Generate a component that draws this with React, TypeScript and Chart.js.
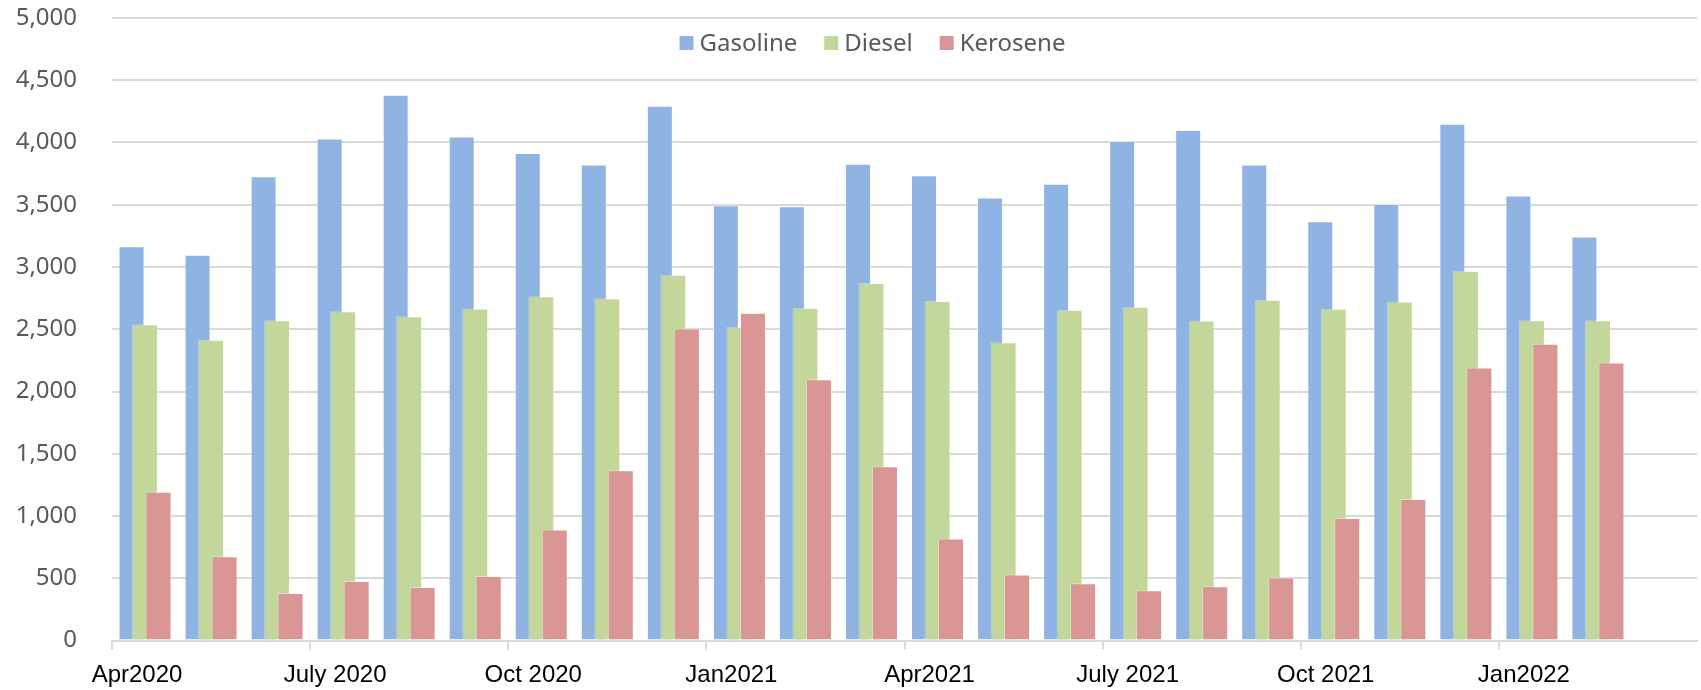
import React, { useEffect, useRef } from "react";
import { Chart, registerables } from "chart.js";

Chart.register(...registerables);

const months = [
  "2020-04", "2020-05", "2020-06", "2020-07", "2020-08", "2020-09",
  "2020-10", "2020-11", "2020-12", "2021-01", "2021-02", "2021-03",
  "2021-04", "2021-05", "2021-06", "2021-07", "2021-08", "2021-09",
  "2021-10", "2021-11", "2021-12", "2022-01", "2022-02", "2022-03",
];
const tickLabels = ["Apr2020", "July 2020", "Oct 2020", "Jan2021", "Apr2021", "July 2021", "Oct 2021", "Jan2022"];

const gasoline = [3166, 3099, 3728, 4033, 4383, 4049, 3915, 3824, 4295, 3495, 3487, 3830, 3736, 3559, 3669, 4013, 4101, 3824, 3367, 3506, 4151, 3575, 3244];
const diesel = [2540, 2416, 2572, 2645, 2605, 2666, 2765, 2750, 2938, 2521, 2672, 2872, 2727, 2395, 2657, 2680, 2570, 2736, 2664, 2722, 2970, 2573, 2573];
const kerosene = [1194, 677, 381, 477, 429, 518, 892, 1368, 2507, 2633, 2098, 1400, 820, 531, 459, 403, 435, 507, 983, 1136, 2192, 2383, 2232];

const seriesNames = ["Gasoline", "Diesel", "Kerosene"];
const seriesColors = ["#8FB4E3", "#C4D79B", "#DA9694"];

const forwardDrawPlugin = {
  id: "forwardDraw",
  beforeDatasetsDraw(chart: any) {
    const metas = chart.getSortedVisibleDatasetMetas();
    const ctx = chart.ctx;
    const a = chart.chartArea;
    ctx.save();
    ctx.beginPath();
    ctx.rect(a.left, a.top, a.right - a.left, a.bottom - a.top);
    ctx.clip();
    for (const meta of metas) meta.controller.draw();
    ctx.restore();
    return false;
  },
};

const legendPlugin = {
  id: "insideLegend",
  afterDraw(chart: any) {
    const ctx = chart.ctx;
    const box = 14;
    const gapText = 6;
    const gapItem = 27;
    ctx.save();
    ctx.font = '24px "Noto Sans"';
    const widths = seriesNames.map((n) => ctx.measureText(n).width);
    const total = widths.reduce((s, w) => s + box + gapText + w, 0) + gapItem * (seriesNames.length - 1);
    const centerX = (chart.chartArea.left + chart.chartArea.right) / 2 - 32;
    const cy = 43;
    let x = centerX - total / 2;
    seriesNames.forEach((n, i) => {
      ctx.fillStyle = seriesColors[i];
      ctx.fillRect(x, cy - box / 2, box, box);
      x += box + gapText;
      ctx.fillStyle = "#595959";
      ctx.textBaseline = "middle";
      ctx.textAlign = "left";
      ctx.fillText(n, x, cy + 1);
      x += widths[i] + gapItem;
    });
    ctx.restore();
  },
};

export default function App() {
  const ref = useRef<HTMLCanvasElement>(null);

  useEffect(() => {
    document.body.style.margin = "0";
    const canvas = ref.current;
    if (!canvas) return;
    const datasets = [gasoline, diesel, kerosene].map((d, i) => ({
      label: seriesNames[i],
      data: d,
      backgroundColor: seriesColors[i],
      borderColor: "rgba(255,255,255,0.35)",
      borderWidth: 1,
      categoryPercentage: 0.6136,
      barPercentage: 1.926,
    }));
    const chart = new Chart(canvas, {
      type: "bar",
      data: { labels: months, datasets },
      plugins: [forwardDrawPlugin, legendPlugin],
      options: {
        animation: false,
        responsive: true,
        maintainAspectRatio: false,
        layout: { padding: { top: 18, right: 4, left: 0, bottom: 0 } },
        plugins: { legend: { display: false }, tooltip: { enabled: false } },
        scales: {
          x: {
            offset: true,
            grid: {
              offset: true,
              drawOnChartArea: false,
              drawTicks: true,
              tickLength: 9,
              lineWidth: 2,
              color: (c: any) => (c.index % 3 === 0 ? "#D9D9D9" : "rgba(0,0,0,0)"),
            },
            border: { display: true, color: "#D9D9D9", width: 2 },
            ticks: {
              autoSkip: false,
              maxRotation: 0,
              minRotation: 0,
              padding: 11,
              labelOffset: -8,
              color: "#000000",
              font: { family: '"Liberation Sans", Arial, sans-serif', size: 24 },
              callback: (_v: any, i: number) => (i % 3 === 0 ? tickLabels[i / 3] ?? "" : ""),
            },
            afterFit: (s: any) => {
              s.height = 49.5;
            },
          },
          y: {
            min: 0,
            max: 5000,
            grid: {
              color: "#D9D9D9",
              lineWidth: 2,
              drawTicks: true,
              tickLength: 35,
              tickColor: "rgba(0,0,0,0)",
            },
            border: { display: false },
            ticks: {
              stepSize: 500,
              padding: 0,
              color: "#595959",
              font: { family: '"Noto Sans", sans-serif', size: 24 },
              callback: (v: any) => Number(v).toLocaleString("en-US"),
            },
            afterFit: (s: any) => {
              s.width = 112;
            },
          },
        },
      },
    });
    return () => chart.destroy();
  }, []);

  return (
    <div style={{ position: "relative", width: 1701, height: 690 }}>
      <canvas ref={ref} />
    </div>
  );
}
